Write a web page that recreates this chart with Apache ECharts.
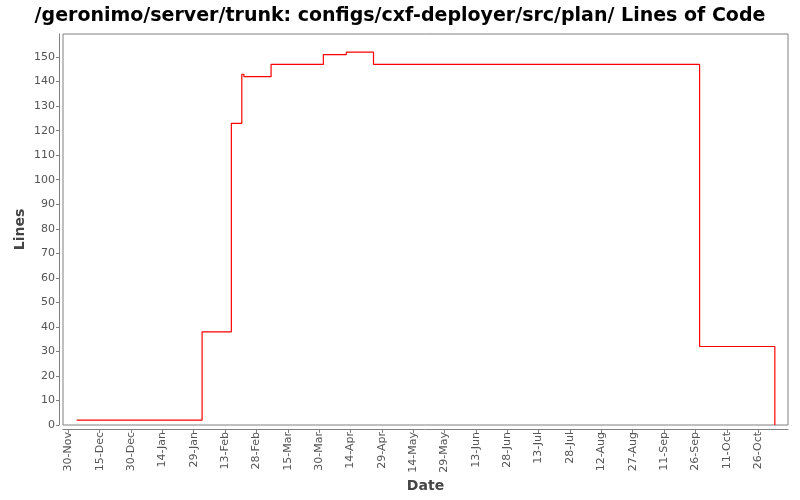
<!DOCTYPE html>
<html>
<head>
<meta charset="utf-8">
<script src="https://cdn.jsdelivr.net/npm/echarts@6/dist/echarts.min.js"></script>
<style>html,body{margin:0;padding:0;background:#fff}#c{width:800px;height:500px}</style>
</head>
<body>
<div id="c"></div>
<script>
const titleText = '/geronimo/server/trunk: configs/cxf-deployer/src/plan/ Lines of Code';
const dates = ['2006-12-04','2007-02-02','2007-02-16','2007-02-21','2007-02-22','2007-03-07','2007-04-01','2007-04-12','2007-04-25','2007-09-28','2007-11-03'];
const lines = [2, 38, 123, 143, 142, 147, 151, 152, 147, 32, 0];
const xTickDates = ['2006-11-30','2006-12-15','2006-12-30','2007-01-14','2007-01-29','2007-02-13','2007-02-28','2007-03-15','2007-03-30','2007-04-14','2007-04-29','2007-05-14','2007-05-29','2007-06-13','2007-06-28','2007-07-13','2007-07-28','2007-08-12','2007-08-27','2007-09-11','2007-09-26','2007-10-11','2007-10-26'];
const yTicks = [0,10,20,30,40,50,60,70,80,90,100,110,120,130,140,150];
const monthNames = ['Jan','Feb','Mar','Apr','May','Jun','Jul','Aug','Sep','Oct','Nov','Dec'];

function ts(s){ const p = s.split(/[- :]/).map(Number); return new Date(p[0], p[1]-1, p[2], p[3]||0, p[4]||0).getTime(); }
const xTicks = xTickDates.map(ts);
const data = dates.map((d,i)=>[ts(d), lines[i]]);

const chart = echarts.init(document.getElementById('c'), null, {renderer:'canvas'});
chart.setOption({
  backgroundColor:'#fff',
  animation:false,
  title:{text:titleText,left:'center',top:2,textStyle:{fontFamily:'DejaVu Sans',fontWeight:'bold',fontSize:19,color:'#000'}},
  grid:{left:63,right:12,top:34,bottom:75,show:true,borderColor:'#808080',borderWidth:1,backgroundColor:'#fff'},
  xAxis:{
    type:'value', min:ts('2006-11-27 11:00'), max:ts('2007-11-09 07:00'), offset:4,
    name:'Date', nameLocation:'middle', nameGap:50, nameMoveOverlap:false,
    nameTextStyle:{fontFamily:'DejaVu Sans',fontSize:14,fontWeight:'bold',color:'#444'},
    axisLine:{show:true,onZero:false,lineStyle:{color:'#808080',width:1}},
    axisTick:{show:true,length:4,lineStyle:{color:'#808080'},customValues:xTicks},
    axisLabel:{rotate:90,margin:3,fontFamily:'DejaVu Sans',fontSize:11,color:'#555',customValues:xTicks,
      formatter:function(v){const d=new Date(v);return (d.getDate()<10?'0':'')+d.getDate()+'-'+monthNames[d.getMonth()];}},
    splitLine:{show:false}
  },
  yAxis:{
    type:'value', min:0, max:159.4, offset:4,
    name:'Lines', nameLocation:'middle', nameGap:32, nameMoveOverlap:false,
    nameTextStyle:{fontFamily:'DejaVu Sans',fontSize:14,fontWeight:'bold',color:'#444'},
    axisLine:{show:true,onZero:false,lineStyle:{color:'#808080',width:1}},
    axisTick:{show:true,length:3,lineStyle:{color:'#808080'},customValues:yTicks},
    axisLabel:{margin:4,fontFamily:'DejaVu Sans',fontSize:11,color:'#555',customValues:yTicks},
    splitLine:{show:false}
  },
  series:[{type:'line',step:'end',data:data,showSymbol:false,symbol:'none',lineStyle:{color:'#ff0000',width:1.2},itemStyle:{color:'#ff0000'}}]
});
</script>
</body>
</html>
